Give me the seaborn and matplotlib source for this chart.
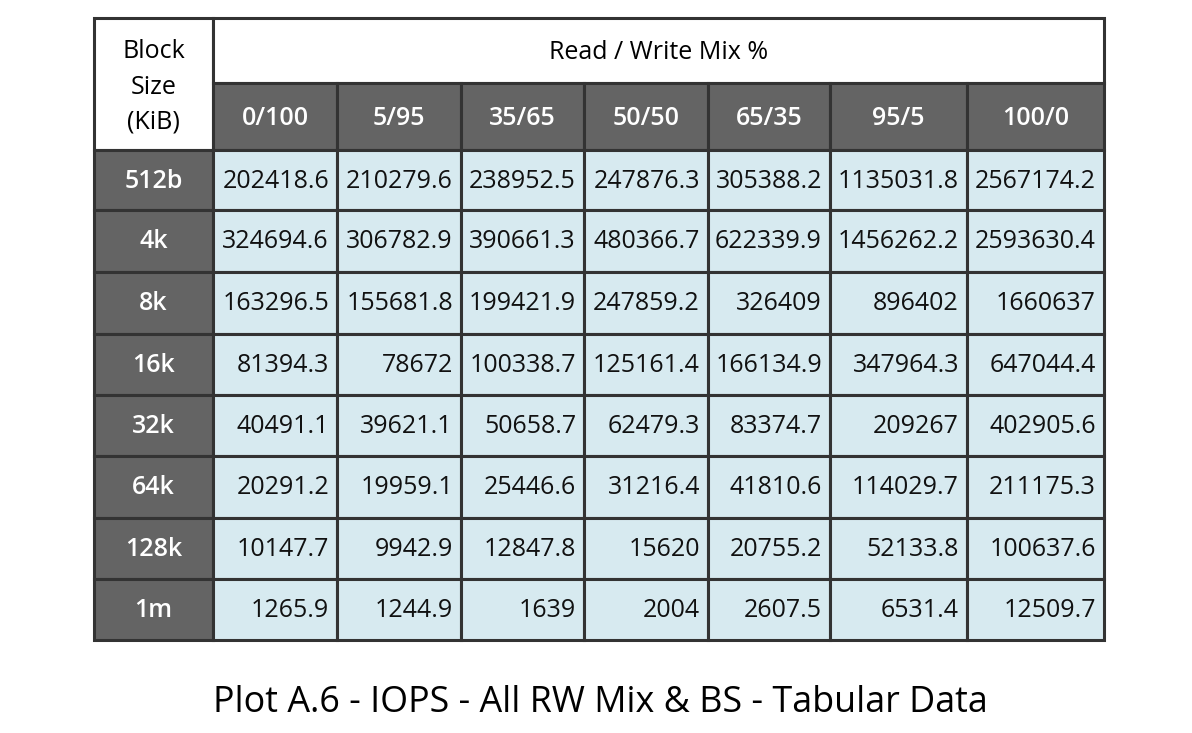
import matplotlib
matplotlib.use("Agg")
import matplotlib.pyplot as plt
from matplotlib.patches import Rectangle
import seaborn as sns

# table contents
mix_labels = ["0/100", "5/95", "35/65", "50/50", "65/35", "95/5", "100/0"]
block_sizes = ["512b", "4k", "8k", "16k", "32k", "64k", "128k", "1m"]
iops_512b = ["202418.6", "210279.6", "238952.5", "247876.3", "305388.2", "1135031.8", "2567174.2"]
iops_4k = ["324694.6", "306782.9", "390661.3", "480366.7", "622339.9", "1456262.2", "2593630.4"]
iops_8k = ["163296.5", "155681.8", "199421.9", "247859.2", "326409", "896402", "1660637"]
iops_16k = ["81394.3", "78672", "100338.7", "125161.4", "166134.9", "347964.3", "647044.4"]
iops_32k = ["40491.1", "39621.1", "50658.7", "62479.3", "83374.7", "209267", "402905.6"]
iops_64k = ["20291.2", "19959.1", "25446.6", "31216.4", "41810.6", "114029.7", "211175.3"]
iops_128k = ["10147.7", "9942.9", "12847.8", "15620", "20755.2", "52133.8", "100637.6"]
iops_1m = ["1265.9", "1244.9", "1639", "2004", "2607.5", "6531.4", "12509.7"]
rows = [iops_512b, iops_4k, iops_8k, iops_16k, iops_32k, iops_64k, iops_128k, iops_1m]

sns.set_theme(style="white")
plt.rcParams["font.family"] = ["Open Sans", "DejaVu Sans"]

dark = "#646464"
light = "#d7eaf0"
edge = "#333333"
fs = 18

# cell grid in pixels
col_edges = [94, 213, 337, 461, 584, 708, 830, 967, 1104]
row_edges = [18, 83, 150, 210, 272, 334, 395, 456, 518, 579, 640]

fig = plt.figure(figsize=(11.92, 7.33), dpi=100)
ax = fig.add_axes([0, 0, 1, 1])
ax.set_xlim(0, 1192)
ax.set_ylim(733, 0)
ax.axis("off")


def cell(x0, x1, y0, y1, color):
    ax.add_patch(Rectangle((x0, y0), x1 - x0, y1 - y0, facecolor=color,
                           edgecolor=edge, linewidth=2.2))


# header cells
cell(col_edges[0], col_edges[1], row_edges[0], row_edges[2], "white")
ax.text((col_edges[0] + col_edges[1]) / 2, (row_edges[0] + row_edges[2]) / 2 + 3,
        "Block\nSize\n(KiB)", ha="center", va="center", fontsize=fs,
        color="black", linespacing=1.53)
cell(col_edges[1], col_edges[-1], row_edges[0], row_edges[1], "white")
ax.text((col_edges[1] + col_edges[-1]) / 2, (row_edges[0] + row_edges[1]) / 2 + 2,
        "Read / Write Mix %", ha="center", va="center", fontsize=fs, color="black")

for j, lab in enumerate(mix_labels):
    x0, x1 = col_edges[j + 1], col_edges[j + 2]
    cell(x0, x1, row_edges[1], row_edges[2], dark)
    ax.text((x0 + x1) / 2, (row_edges[1] + row_edges[2]) / 2 + 2, lab,
            ha="center", va="center", fontsize=fs, color="white", fontweight="semibold")

# body
for i, (bs, vals) in enumerate(zip(block_sizes, rows)):
    y0, y1 = row_edges[i + 2], row_edges[i + 3]
    cell(col_edges[0], col_edges[1], y0, y1, dark)
    ax.text((col_edges[0] + col_edges[1]) / 2, (y0 + y1) / 2 + 1, bs,
            ha="center", va="center", fontsize=fs, color="white", fontweight="semibold")
    for j, v in enumerate(vals):
        x0, x1 = col_edges[j + 1], col_edges[j + 2]
        cell(x0, x1, y0, y1, light)
        ax.text(x1 - 8, (y0 + y1) / 2 + 1, v, ha="right", va="center",
                fontsize=fs, color="#111111")

ax.text(600, 703, "Plot A.6 - IOPS - All RW Mix & BS - Tabular Data",
        ha="center", va="center", fontsize=25.8, color="black")

fig.savefig("out.png", dpi=100)
